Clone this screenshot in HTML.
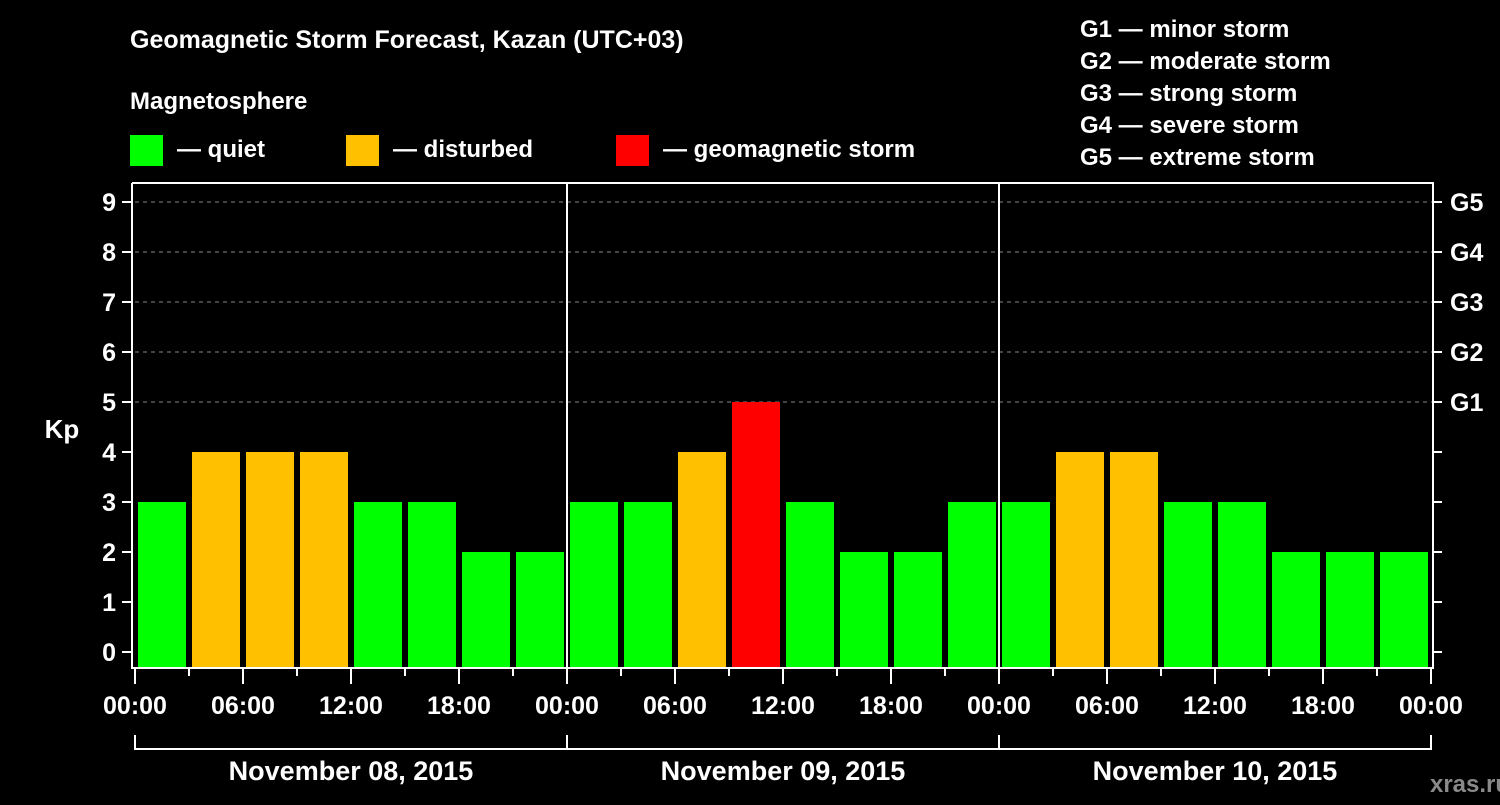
<!DOCTYPE html>
<html><head><meta charset="utf-8"><style>
body{margin:0;background:#000;}
svg text{font-family:"Liberation Sans",sans-serif;font-weight:bold;fill:#fff;}
</style></head><body>
<svg width="1500" height="800" viewBox="0 0 1500 800">
<text x="130" y="48" font-size="25">Geomagnetic Storm Forecast, Kazan (UTC+03)</text>
<text x="130" y="109" font-size="24">Magnetosphere</text>
<g><rect x="130" y="135" width="33" height="31" fill="#00ff00"/><text x="177" y="157" font-size="24">— quiet</text></g>
<g><rect x="346" y="135" width="33" height="31" fill="#ffc000"/><text x="393" y="157" font-size="24">— disturbed</text></g>
<g><rect x="616" y="135" width="33" height="31" fill="#ff0000"/><text x="663" y="157" font-size="24">— geomagnetic storm</text></g>
<g font-size="24">
<text x="1080" y="37">G1 — minor storm</text><text x="1080" y="69">G2 — moderate storm</text><text x="1080" y="101">G3 — strong storm</text><text x="1080" y="133">G4 — severe storm</text><text x="1080" y="165">G5 — extreme storm</text></g>
<g id="grid"></g><g id="bars"></g><g id="axes"></g>
<text x="62" y="438" font-size="26" text-anchor="middle">Kp</text>
<text x="1470" y="792" font-size="24" text-anchor="middle" fill="#888" style="fill:#8a8a8a">xras.ru</text>
</svg>
<script>
const days=["November 08, 2015","November 09, 2015","November 10, 2015"];
const kp=[3,4,4,4,3,3,2,2, 3,3,4,5,3,2,2,3, 3,4,4,3,3,2,2,2];
const hourLabels=["00:00","06:00","12:00","18:00"];
const yTicks=[0,1,2,3,4,5,6,7,8,9];
const gLabels=["G1","G2","G3","G4","G5"];
const NS="http://www.w3.org/2000/svg";
const X0=135,DAYW=432,Y0=652,UNIT=50,BOT=668,TOP=183,RIGHT=1433;
const slot=DAYW/8;
const xs=i=>X0+i*slot;
const ys=v=>Y0-v*UNIT;
function mk(tag,attrs,parent,txt){const e=document.createElementNS(NS,tag);for(const k in attrs)e.setAttribute(k,attrs[k]);if(txt!==undefined)e.textContent=txt;document.getElementById(parent).appendChild(e);return e;}
function color(v){return v>=5?"#ff0000":v>=4?"#ffc000":"#00ff00";}
yTicks.forEach(t=>{if(t>=5){const l=mk("line",{x1:X0,x2:RIGHT,y1:ys(t),y2:ys(t),stroke:"#888","stroke-dasharray":"4,4","stroke-width":1},"grid");

}});
kp.forEach((v,i)=>{const r=mk("rect",{x:xs(i)+3,y:ys(v),width:slot-6,height:BOT-ys(v),fill:color(v)},"bars");

});
const ax=mk("path",{d:`M132 ${TOP}V${BOT}H${RIGHT}V${TOP}H132`,stroke:"#fff","stroke-width":2,fill:"none"},"axes");


for(let d=1;d<days.length;d++){const l=mk("line",{x1:X0+d*DAYW,x2:X0+d*DAYW,y1:TOP,y2:BOT,stroke:"#fff","stroke-width":2},"axes");

}
yTicks.forEach(t=>{mk("line",{x1:122,x2:132,y1:ys(t),y2:ys(t),stroke:"#fff","stroke-width":2},"axes");
mk("line",{x1:RIGHT,x2:RIGHT+9,y1:ys(t),y2:ys(t),stroke:"#fff","stroke-width":2},"axes");
const tx=mk("text",{x:116,y:ys(t)+9,"font-size":25,"text-anchor":"end"},"axes",String(t));

});
gLabels.forEach((g,i)=>{const tx=mk("text",{x:1450,y:ys(5+i)+9,"font-size":25},"axes",g);

});
for(let i=0;i<=kp.length;i++){mk("line",{x1:xs(i),x2:xs(i),y1:BOT,y2:i%2===0?684:676,stroke:"#fff","stroke-width":2},"axes");
if(i%2===0){const tx=mk("text",{x:xs(i),y:714,"font-size":25,"text-anchor":"middle"},"axes",hourLabels[(i/2)%4]);

}}
mk("path",{d:`M${X0} 735V749H${X0+days.length*DAYW}V735`,stroke:"#fff","stroke-width":2,fill:"none"},"axes");
days.forEach((d,i)=>{mk("line",{x1:X0+i*DAYW,x2:X0+i*DAYW,y1:735,y2:749,stroke:"#fff","stroke-width":2},"axes");
const tx=mk("text",{x:X0+i*DAYW+DAYW/2,y:780,"font-size":27,"text-anchor":"middle"},"axes",d);

});
</script>
</body></html>
